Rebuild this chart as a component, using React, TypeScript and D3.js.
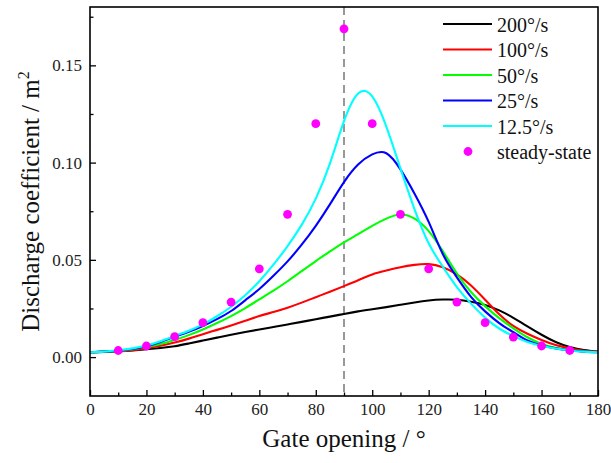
import React, { useEffect, useRef } from "react";
import * as d3 from "d3";

const angles = [0, 5, 10, 15, 20, 25, 30, 35, 40, 45, 50, 55, 60, 65, 70, 75, 80, 85, 90, 95, 100, 105, 110, 115, 120, 125, 130, 135, 140, 145, 150, 155, 160, 165, 170, 175, 180];

const rate200 = [0.0025, 0.0027, 0.003, 0.0034, 0.004, 0.0047, 0.0056, 0.007, 0.0085, 0.01, 0.0115, 0.0129, 0.0142, 0.0155, 0.0168, 0.0181, 0.0195, 0.0208, 0.0222, 0.0235, 0.0246, 0.0257, 0.0269, 0.0281, 0.0291, 0.0296, 0.0295, 0.0285, 0.0268, 0.0240, 0.0202, 0.0158, 0.0115, 0.0078, 0.0052, 0.0036, 0.0028];
const rate100 = [0.0025, 0.0027, 0.003, 0.0036, 0.0045, 0.0058, 0.0075, 0.0095, 0.0118, 0.014, 0.0163, 0.0187, 0.0211, 0.0232, 0.0254, 0.028, 0.0308, 0.0336, 0.0365, 0.0395, 0.0425, 0.0445, 0.0462, 0.0474, 0.0478, 0.0462, 0.0425, 0.0368, 0.0295, 0.022, 0.016, 0.012, 0.0088, 0.0062, 0.0045, 0.0033, 0.0028];
const rate50 = [0.0025, 0.0028, 0.0032, 0.004, 0.0052, 0.0067, 0.0088, 0.0113, 0.0142, 0.0175, 0.0211, 0.0252, 0.0297, 0.0342, 0.039, 0.0442, 0.0494, 0.0543, 0.059, 0.0632, 0.0675, 0.0712, 0.0733, 0.0712, 0.0648, 0.0545, 0.043, 0.0335, 0.0262, 0.02, 0.0148, 0.0102, 0.0068, 0.0048, 0.0036, 0.0029, 0.0025];
const rate25 = [0.0025, 0.0028, 0.0033, 0.0042, 0.0056, 0.0078, 0.0105, 0.013, 0.016, 0.0195, 0.0237, 0.0292, 0.035, 0.0418, 0.0492, 0.0578, 0.0675, 0.0785, 0.09, 0.099, 0.1042, 0.1048, 0.0965, 0.084, 0.0695, 0.053, 0.041, 0.031, 0.0235, 0.0175, 0.0128, 0.0085, 0.006, 0.0045, 0.0035, 0.0028, 0.0025];
const rate12_5 = [0.0025, 0.0028, 0.0035, 0.0045, 0.006, 0.0082, 0.0108, 0.0135, 0.0168, 0.021, 0.0259, 0.0318, 0.039, 0.0475, 0.0571, 0.068, 0.0815, 0.0995, 0.1213, 0.1355, 0.134, 0.1185, 0.097, 0.076, 0.0585, 0.0465, 0.036, 0.0275, 0.0203, 0.0147, 0.0108, 0.0078, 0.0058, 0.0044, 0.0034, 0.0028, 0.0025];

const steadyAngles = [10, 20, 30, 40, 50, 60, 70, 80, 90, 100, 110, 120, 130, 140, 150, 160, 170];
const steadyValues = [0.0034, 0.0057, 0.0105, 0.0177, 0.0283, 0.0454, 0.0734, 0.12, 0.1688, 0.12, 0.0734, 0.0454, 0.0283, 0.0177, 0.0103, 0.0057, 0.0034];

const seriesNames = ["200°/s", "100°/s", "50°/s", "25°/s", "12.5°/s"];
const seriesColors = ["#000000", "#ff0000", "#00ff00", "#0000ff", "#00ffff"];
const steadyName = "steady-state";
const steadyColor = "#ff00ff";

const xTicks = [0, 20, 40, 60, 80, 100, 120, 140, 160, 180];
const xMinorTicks = [10, 30, 50, 70, 90, 110, 130, 150, 170];
const yTicks = [0, 0.05, 0.1, 0.15];
const yMinorTicks = [0.025, 0.075, 0.125, 0.175];
const xTitle = "Gate opening / °";
const yTitle = "Discharge coefficient / m";
const refAngle = 90;

const W = 611;
const H = 463;
const FONT = "'Liberation Serif', 'Times New Roman', serif";

export default function App() {
  const ref = useRef<SVGSVGElement>(null);

  useEffect(() => {
    const svg = d3.select(ref.current);
    svg.selectAll("*").remove();

    const left = 90, right = 598, top = 7, bottom = 396;
    const x = d3.scaleLinear().domain([0, 180]).range([left, right]);
    const y = d3.scaleLinear().domain([-0.02, 0.18]).range([bottom, top]);

    svg.append("rect").attr("width", W).attr("height", H).attr("fill", "#fff");

    svg.append("line")
      .attr("x1", x(refAngle)).attr("x2", x(refAngle))
      .attr("y1", top).attr("y2", bottom)
      .attr("stroke", "#7f7f7f").attr("stroke-width", 1.6)
      .attr("stroke-dasharray", "8,5");

    const xAxis = d3.axisBottom(x).tickValues(xTicks).tickFormat(d3.format("d"))
      .tickSizeInner(-6).tickSizeOuter(0).tickPadding(7);
    const gx = svg.append("g").attr("transform", `translate(0,${bottom})`).call(xAxis);
    const xMinor = d3.axisBottom(x).tickValues(xMinorTicks).tickFormat(() => "")
      .tickSizeInner(-3.5).tickSizeOuter(0);
    const gxm = svg.append("g").attr("transform", `translate(0,${bottom})`).call(xMinor);

    const yAxis = d3.axisLeft(y).tickValues(yTicks).tickFormat(d3.format(".2f"))
      .tickSizeInner(-6).tickSizeOuter(0).tickPadding(8);
    const gy = svg.append("g").attr("transform", `translate(${left},0)`).call(yAxis);
    const yMinor = d3.axisLeft(y).tickValues(yMinorTicks).tickFormat(() => "")
      .tickSizeInner(-3.5).tickSizeOuter(0);
    const gym = svg.append("g").attr("transform", `translate(${left},0)`).call(yMinor);

    [gx, gxm, gy, gym].forEach((g) => {
      g.select(".domain").remove();
      g.selectAll("line").attr("stroke", "#000").attr("stroke-width", 1.3);
      g.selectAll("text").attr("font-family", FONT).attr("font-size", 17).attr("fill", "#222");
    });

    const seriesValues = [rate200, rate100, rate50, rate25, rate12_5];
    const line = d3.line<number>()
      .x((_, i) => x(angles[i]))
      .y((d) => y(d))
      .curve(d3.curveNatural);

    seriesValues.forEach((vals, si) => {
      svg.append("path")
        .attr("d", line(vals))
        .attr("fill", "none")
        .attr("stroke", seriesColors[si])
        .attr("stroke-width", 2.1)
        .attr("stroke-linejoin", "round");
    });

    svg.append("g").selectAll("circle")
      .data(steadyValues)
      .join("circle")
      .attr("cx", (_, i) => x(steadyAngles[i]))
      .attr("cy", (d) => y(d))
      .attr("r", 4.4)
      .attr("fill", steadyColor);

    svg.append("rect")
      .attr("x", left).attr("y", top)
      .attr("width", right - left).attr("height", bottom - top)
      .attr("fill", "none").attr("stroke", "#000").attr("stroke-width", 1.6);

    const lg = svg.append("g");
    const rowY = (i: number) => 24 + i * 25.5;
    seriesNames.forEach((name, i) => {
      lg.append("line")
        .attr("x1", 443).attr("x2", 492)
        .attr("y1", rowY(i)).attr("y2", rowY(i))
        .attr("stroke", seriesColors[i]).attr("stroke-width", 2.2);
      lg.append("text")
        .attr("x", 497).attr("y", rowY(i) + 7.5)
        .attr("font-family", FONT).attr("font-size", 20).attr("fill", "#111")
        .text(name);
    });
    lg.append("circle")
      .attr("cx", 468).attr("cy", rowY(5)).attr("r", 4.4).attr("fill", steadyColor);
    lg.append("text")
      .attr("x", 497).attr("y", rowY(5) + 7.5)
      .attr("font-family", FONT).attr("font-size", 20).attr("fill", "#111")
      .text(steadyName);

    svg.append("text")
      .attr("x", (left + right) / 2).attr("y", 447)
      .attr("text-anchor", "middle")
      .attr("font-family", FONT).attr("font-size", 25).attr("fill", "#111")
      .text(xTitle);

    const yt = svg.append("text")
      .attr("transform", `translate(39,${(top + bottom) / 2}) rotate(-90)`)
      .attr("text-anchor", "middle")
      .attr("font-family", FONT).attr("font-size", 25).attr("fill", "#111");
    yt.append("tspan").text(yTitle);
    yt.append("tspan").attr("font-size", 16).attr("dy", -10).text("2");
  }, []);

  return (
    <svg
      ref={ref}
      width={W}
      height={H}
      style={{ position: "absolute", left: 0, top: 0, display: "block" }}
    />
  );
}
